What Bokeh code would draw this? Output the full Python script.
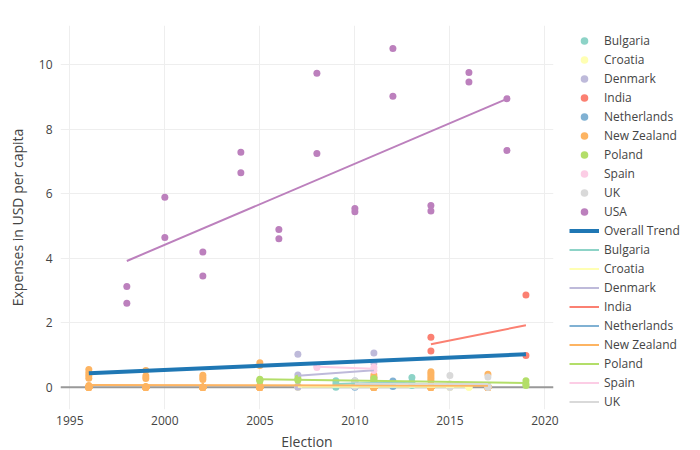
import numpy as np
from bokeh.plotting import figure
from bokeh.models import Legend, LegendItem, Span, FixedTicker
from bokeh.embed import file_html
from bokeh.resources import INLINE

countries = ["Bulgaria", "Croatia", "Denmark", "India", "Netherlands",
             "New Zealand", "Poland", "Spain", "UK", "USA"]
colors = ["#8dd3c7", "#ffffb3", "#bebada", "#fb8072", "#80b1d3",
          "#fdb462", "#b3de69", "#fccde5", "#d9d9d9", "#bc80bd"]

# expenses per party, grouped by election year
bulgaria_years = [2009, 2013]
bulgaria_spend = [[0.2, 0.1, 0.0], [0.3, 0.15, 0.05]]

croatia_years = [2007, 2011, 2015, 2016]
croatia_spend = [[0.05, 0.02, 0, 0], [0.04, 0.01, 0, 0],
                 [0.06, 0.02, 0, 0], [0.05, 0.01, 0, 0]]

denmark_years = [2007, 2011]
denmark_spend = [[1.02, 0.38, 0.03, 0.0], [1.06, 0.75, 0.3, 0.0]]

india_years = [2014, 2019]
india_spend = [[1.55, 1.12], [2.86, 0.98]]

netherlands_years = [2010, 2012]
netherlands_spend = [[0.19, 0.0], [0.19, 0.02]]

nz_years = [1996, 1999, 2002, 2005, 2011, 2014, 2017]
nz_spend = [
    [0.55, 0.45, 0.36, 0.28, 0.05, 0, 0, 0, 0, 0, 0, 0, 0, 0, 0, 0, 0, 0, 0, 0],
    [0.52, 0.35, 0.27, 0.02, 0, 0, 0, 0, 0, 0, 0, 0, 0, 0, 0, 0, 0, 0, 0, 0],
    [0.37, 0.3, 0.24, 0, 0, 0, 0, 0, 0, 0, 0, 0, 0, 0, 0, 0, 0, 0, 0, 0],
    [0.76, 0.67, 0.05, 0, 0, 0, 0, 0, 0, 0, 0, 0, 0, 0, 0, 0, 0, 0, 0, 0],
    [0.38, 0.3, 0.2, 0, 0, 0, 0, 0, 0, 0, 0, 0, 0, 0, 0, 0, 0, 0, 0, 0],
    [0.48, 0.42, 0.35, 0.28, 0.2, 0, 0, 0, 0, 0, 0, 0, 0, 0, 0, 0, 0, 0, 0, 0],
    [0.4, 0, 0, 0, 0, 0, 0, 0, 0, 0, 0, 0, 0, 0, 0, 0, 0, 0, 0, 0],
]

poland_years = [2005, 2007, 2011, 2019]
poland_spend = [[0.25, 0.22, 0.2], [0.28, 0.22], [0.27, 0.2], [0.2, 0.1, 0.05]]

spain_years = [2008, 2011]
spain_spend = [[0.66, 0.61], [0.62, 0.52]]

uk_years = [2010, 2015, 2017]
uk_spend = [[0.2, 0.1, 0.02], [0.36, 0.1, 0.0, 0.0], [0.32, 0.05, 0.0, 0.0]]

usa_years = [1998, 2000, 2002, 2004, 2006, 2008, 2010, 2012, 2014, 2016, 2018]
usa_spend = [[3.12, 2.6], [5.89, 4.64], [4.19, 3.45], [7.28, 6.65], [4.89, 4.6],
             [9.73, 7.24], [5.54, 5.44], [10.5, 9.02], [5.63, 5.46],
             [9.75, 9.46], [8.94, 7.34]]

data = [
    (bulgaria_years, bulgaria_spend), (croatia_years, croatia_spend),
    (denmark_years, denmark_spend), (india_years, india_spend),
    (netherlands_years, netherlands_spend), (nz_years, nz_spend),
    (poland_years, poland_spend), (spain_years, spain_spend),
    (uk_years, uk_spend), (usa_years, usa_spend),
]


def flatten(years, spend):
    xs, ys = [], []
    for yr, vals in zip(years, spend):
        for v in vals:
            xs.append(yr)
            ys.append(v)
    return xs, ys


def trend(xs, ys):
    k, b = np.polyfit(xs, ys, 1)
    x0, x1 = min(xs), max(xs)
    return [x0, x1], [k * x0 + b, k * x1 + b]


FONT = "Open Sans"

p = figure(frame_width=493, frame_height=384, x_range=(1994.51, 2020.45), y_range=(-0.69, 11.21),
           output_backend="svg", toolbar_location=None,
           min_border_left=60, min_border_right=10, min_border_top=25, min_border_bottom=36)
p.outline_line_color = None
p.grid.grid_line_color = "#eeeeee"
p.xaxis.ticker = FixedTicker(ticks=[1995, 2000, 2005, 2010, 2015, 2020])
p.yaxis.ticker = FixedTicker(ticks=[0, 2, 4, 6, 8, 10])
p.xaxis.axis_label = "Election"
p.yaxis.axis_label = "Expenses in USD per capita"
for ax in (p.xaxis, p.yaxis):
    ax.axis_line_color = None
    ax.major_tick_line_color = None
    ax.minor_tick_line_color = None
    ax.major_label_text_font = FONT
    ax.major_label_text_font_size = "12px"
    ax.major_label_text_color = "#444444"
    ax.axis_label_text_font = FONT
    ax.axis_label_text_font_size = "14px"
    ax.axis_label_text_font_style = "normal"
    ax.axis_label_text_color = "#444444"
p.xaxis.major_label_standoff = 0
p.xaxis.axis_label_standoff = 4
p.yaxis.major_label_standoff = 2
p.yaxis.axis_label_standoff = 9

p.add_layout(Span(location=0, dimension="width", line_color="#999999",
                  line_width=2, level="underlay"))

items = []
all_x, all_y = [], []
flat = []
for name, color, (years, spend) in zip(countries, colors, data):
    xs, ys = flatten(years, spend)
    flat.append((xs, ys))
    all_x += xs
    all_y += ys
    r = p.scatter(xs, ys, size=7, color=color, line_width=0)
    items.append(LegendItem(label=name, renderers=[r]))

tx, ty = trend(all_x, all_y)
r = p.line(tx, ty, line_width=4, color="#1f77b4")
items.append(LegendItem(label="Overall Trend", renderers=[r]))

for name, color, (xs, ys) in zip(countries, colors, flat):
    tx, ty = trend(xs, ys)
    r = p.line(tx, ty, line_width=2, color=color)
    if name != "USA":
        items.append(LegendItem(label=name, renderers=[r]))

legend = Legend(items=items, location=(16, -2), margin=0, padding=0,
                glyph_width=30, glyph_height=19, label_height=19, spacing=0,
                label_standoff=5, label_text_font=FONT, label_text_font_size="12px",
                label_text_color="#444444", border_line_color=None,
                background_fill_alpha=0)
p.add_layout(legend, "right")

open("out.html", "w").write(file_html(p, INLINE))
